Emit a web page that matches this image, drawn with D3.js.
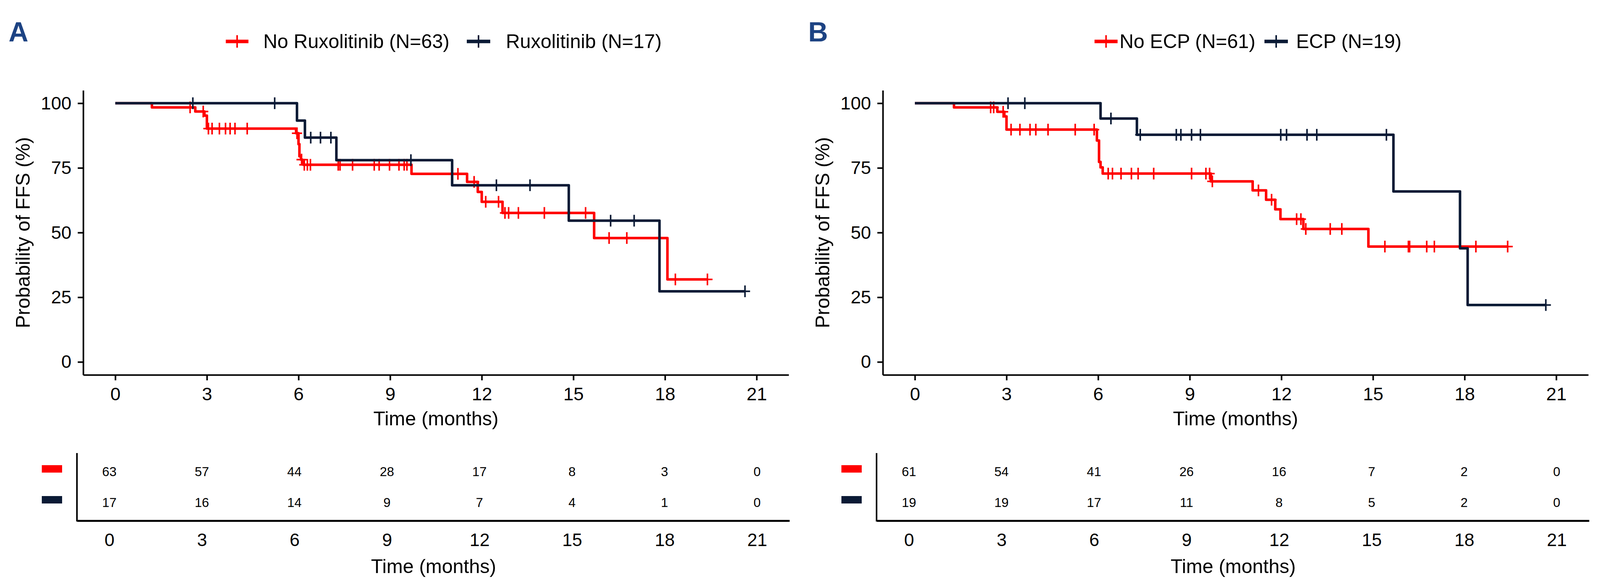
<!DOCTYPE html>
<html>
<head>
<meta charset="utf-8">
<script src="https://cdn.jsdelivr.net/npm/d3@7"></script>
<style>
  body { margin: 0; background: #fff; }
  svg { display: block; font-family: "Liberation Sans", Arial, Helvetica, sans-serif; }
</style>
</head>
<body>
<div id="chart"></div>
<script>
const RED = "#ff0000";
const NAVY = "#0b1a35";

const xTicks = [0, 3, 6, 9, 12, 15, 18, 21];
const yTicks = [0, 25, 50, 75, 100];

// Panel A: Ruxolitinib
const legendA = ["No Ruxolitinib (N=63)", "Ruxolitinib (N=17)"];
const noRuxTimes = [0, 1.2, 2.62, 2.92, 3.0, 5.92, 6.0, 6.03, 6.08, 6.12, 6.16, 9.7, 11.52, 11.87, 12.0, 12.68, 15.68, 18.08];
const noRuxSurv = [100, 98.4, 96.8, 95.2, 90.2, 88.4, 84.2, 79.5, 78.2, 77.2, 76.2, 72.7, 69.6, 65.7, 61.9, 57.6, 47.9, 31.9];
const noRuxCensor = [2.45, 2.88, 3.05, 3.17, 3.41, 3.61, 3.76, 3.92, 4.32, 5.95, 6.1, 6.19, 6.29, 6.39, 7.3, 7.36, 7.77, 8.48, 8.64, 8.98, 9.29, 9.46, 9.55, 11.22, 11.75, 12.13, 12.55, 12.76, 12.88, 13.2, 14.05, 15.4, 16.17, 16.75, 18.34, 19.39];
const ruxTimes = [0, 5.95, 6.21, 7.24, 11.03, 14.85, 17.82];
const ruxSurv = [100, 93.3, 86.7, 78.0, 68.3, 54.6, 27.3];
const ruxCensor = [2.54, 5.22, 6.4, 6.72, 7.06, 9.68, 12.48, 13.58, 16.22, 16.99, 20.62];
const noRuxRisk = [63, 57, 44, 28, 17, 8, 3, 0];
const ruxRisk = [17, 16, 14, 9, 7, 4, 1, 0];

// Panel B: ECP
const legendB = ["No ECP (N=61)", "ECP (N=19)"];
const noEcpTimes = [0, 1.28, 2.7, 2.93, 3.0, 5.96, 6.03, 6.08, 6.15, 9.69, 11.06, 11.5, 11.8, 11.97, 12.72, 14.85];
const noEcpSurv = [100, 98.4, 96.7, 94.9, 89.8, 85.6, 77.3, 75.2, 72.8, 69.8, 66.3, 62.7, 59.0, 55.2, 51.4, 44.6];
const noEcpCensor = [2.48, 2.58, 2.89, 3.15, 3.44, 3.77, 3.96, 4.36, 5.25, 5.87, 6.33, 6.47, 6.75, 7.09, 7.31, 7.82, 9.06, 9.53, 9.65, 9.74, 11.25, 11.68, 12.5, 12.64, 12.8, 13.6, 13.98, 15.39, 16.16, 16.2, 16.76, 17.01, 18.37, 19.41];
const ecpTimes = [0, 6.08, 7.27, 15.67, 17.85, 18.1];
const ecpSurv = [100, 94.1, 87.8, 65.9, 43.9, 22.0];
const ecpCensor = [3.05, 3.6, 6.42, 7.38, 8.56, 8.71, 9.06, 9.35, 11.98, 12.17, 12.84, 13.16, 15.44, 20.66];
const noEcpRisk = [61, 54, 41, 26, 16, 7, 2, 0];
const ecpRisk = [19, 19, 17, 11, 8, 5, 2, 0];

const width = 4107;
const height = 1494;

const svg = d3.select("#chart")
  .append("svg")
  .attr("width", width)
  .attr("height", height)
  .attr("viewBox", `0 0 ${width} ${height}`);

// survival value at time t from a step curve
function survAt(times, surv, t) {
  let s = surv[0];
  for (let i = 0; i < times.length; i++) {
    if (times[i] <= t) s = surv[i];
  }
  return s;
}

function buildSeries(times, surv, censor, color) {
  const end = d3.max(censor.concat(times));
  const pts = times.map((t, i) => ({ t, s: surv[i] }));
  pts.push({ t: end, s: surv[surv.length - 1] });
  return {
    color,
    pts,
    censor: censor.map((t) => ({ t, s: survAt(times, surv, t) })),
  };
}

function drawPanel(opts) {
  const g = svg.append("g").attr("transform", `translate(${opts.dx},0)`);

  const x = d3.scaleLinear().domain([-1.05, 22.05]).range([213, 2019]);
  const y = d3.scaleLinear().domain([-5, 105]).range([959, 231]);

  // panel letter
  g.append("text")
    .attr("x", 22)
    .attr("y", 106)
    .style("font-size", "70px")
    .style("font-weight", "700")
    .style("fill", "#1d4383")
    .text(opts.letter);

  // legend
  opts.legend.forEach((lab, i) => {
    const k = opts.keys[i];
    const color = i === 0 ? RED : NAVY;
    g.append("line")
      .attr("x1", k[0]).attr("x2", k[1])
      .attr("y1", 106).attr("y2", 106)
      .attr("stroke", color)
      .attr("stroke-width", 9);
    g.append("line")
      .attr("x1", (k[0] + k[1]) / 2).attr("x2", (k[0] + k[1]) / 2)
      .attr("y1", 90).attr("y2", 122)
      .attr("stroke", color)
      .attr("stroke-width", 4);
    g.append("text")
      .attr("x", k[2])
      .attr("y", 123)
      .style("font-size", "50px")
      .text(lab);
  });

  // axes
  g.append("g")
    .attr("transform", "translate(213,0)")
    .call(d3.axisLeft(y).tickValues(yTicks).tickSize(14).tickSizeOuter(0).tickPadding(16))
    .call((a) => a.select(".domain").attr("stroke", "#000").attr("stroke-width", 4))
    .call((a) => a.selectAll(".tick line").attr("stroke", "#000").attr("stroke-width", 4))
    .call((a) => a.selectAll("text").style("font-size", "47px").attr("fill", "#000").style("font-family", null));

  g.append("g")
    .attr("transform", "translate(0,959)")
    .call(d3.axisBottom(x).tickValues(xTicks).tickSize(14).tickSizeOuter(0).tickPadding(18))
    .call((a) => a.select(".domain").attr("stroke", "#000").attr("stroke-width", 4))
    .call((a) => a.selectAll(".tick line").attr("stroke", "#000").attr("stroke-width", 4))
    .call((a) => a.selectAll("text").style("font-size", "47px").attr("fill", "#000").style("font-family", null));

  g.append("text")
    .attr("transform", "translate(76,595) rotate(-90)")
    .attr("text-anchor", "middle")
    .style("font-size", "50px")
    .text("Probability of FFS (%)");

  g.append("text")
    .attr("x", 1116)
    .attr("y", 1088)
    .attr("text-anchor", "middle")
    .style("font-size", "50px")
    .text("Time (months)");

  // curves
  const line = d3.line()
    .x((d) => x(d.t))
    .y((d) => y(d.s))
    .curve(d3.curveStepAfter);

  opts.series.forEach((sr) => {
    g.append("path")
      .datum(sr.pts)
      .attr("d", line)
      .attr("fill", "none")
      .attr("stroke", sr.color)
      .attr("stroke-width", 6.5)
      .attr("stroke-linejoin", "round");

    const marks = g.append("g")
      .selectAll("g")
      .data(sr.censor)
      .join("g")
      .attr("transform", (d) => `translate(${x(d.t)},${y(d.s)})`);
    marks.append("line")
      .attr("x1", 0).attr("x2", 0).attr("y1", -15).attr("y2", 15)
      .attr("stroke", sr.color).attr("stroke-width", 4);
    marks.append("line")
      .attr("x1", -13).attr("x2", 13).attr("y1", 0).attr("y2", 0)
      .attr("stroke", sr.color).attr("stroke-width", 4);
  });

  // risk table
  const xt = d3.scaleLinear().domain([-1.05, 22.05]).range([197, 2021]);

  g.append("line")
    .attr("x1", 197).attr("x2", 197)
    .attr("y1", 1159).attr("y2", 1334)
    .attr("stroke", "#000").attr("stroke-width", 4);

  g.append("g")
    .attr("transform", "translate(0,1332)")
    .call(d3.axisBottom(xt).tickValues(xTicks).tickSize(0).tickSizeOuter(0).tickPadding(32))
    .call((a) => a.select(".domain").attr("stroke", "#000").attr("stroke-width", 5))
    .call((a) => a.selectAll("text").style("font-size", "46px").attr("fill", "#000").style("font-family", null));

  const rowY = [1206, 1285];
  opts.risk.forEach((row, i) => {
    const color = i === 0 ? RED : NAVY;
    g.append("rect")
      .attr("x", 107)
      .attr("y", rowY[i] - 16)
      .attr("width", 52)
      .attr("height", 19)
      .attr("fill", color);
    g.append("g")
      .selectAll("text")
      .data(row)
      .join("text")
      .attr("x", (d, j) => xt(xTicks[j]))
      .attr("y", rowY[i] + 12)
      .attr("text-anchor", "middle")
      .style("font-size", "33px")
      .text((d) => d);
  });

  g.append("text")
    .attr("x", 1110)
    .attr("y", 1466)
    .attr("text-anchor", "middle")
    .style("font-size", "50px")
    .text("Time (months)");
}

drawPanel({
  dx: 0,
  letter: "A",
  legend: legendA,
  keys: [[578, 636, 674], [1195, 1255, 1295]],
  series: [
    buildSeries(noRuxTimes, noRuxSurv, noRuxCensor, RED),
    buildSeries(ruxTimes, ruxSurv, ruxCensor, NAVY),
  ],
  risk: [noRuxRisk, ruxRisk],
});

drawPanel({
  dx: 2047,
  letter: "B",
  legend: legendB,
  keys: [[755, 814, 819], [1190, 1250, 1271]],
  series: [
    buildSeries(noEcpTimes, noEcpSurv, noEcpCensor, RED),
    buildSeries(ecpTimes, ecpSurv, ecpCensor, NAVY),
  ],
  risk: [noEcpRisk, ecpRisk],
});
</script>
</body>
</html>
